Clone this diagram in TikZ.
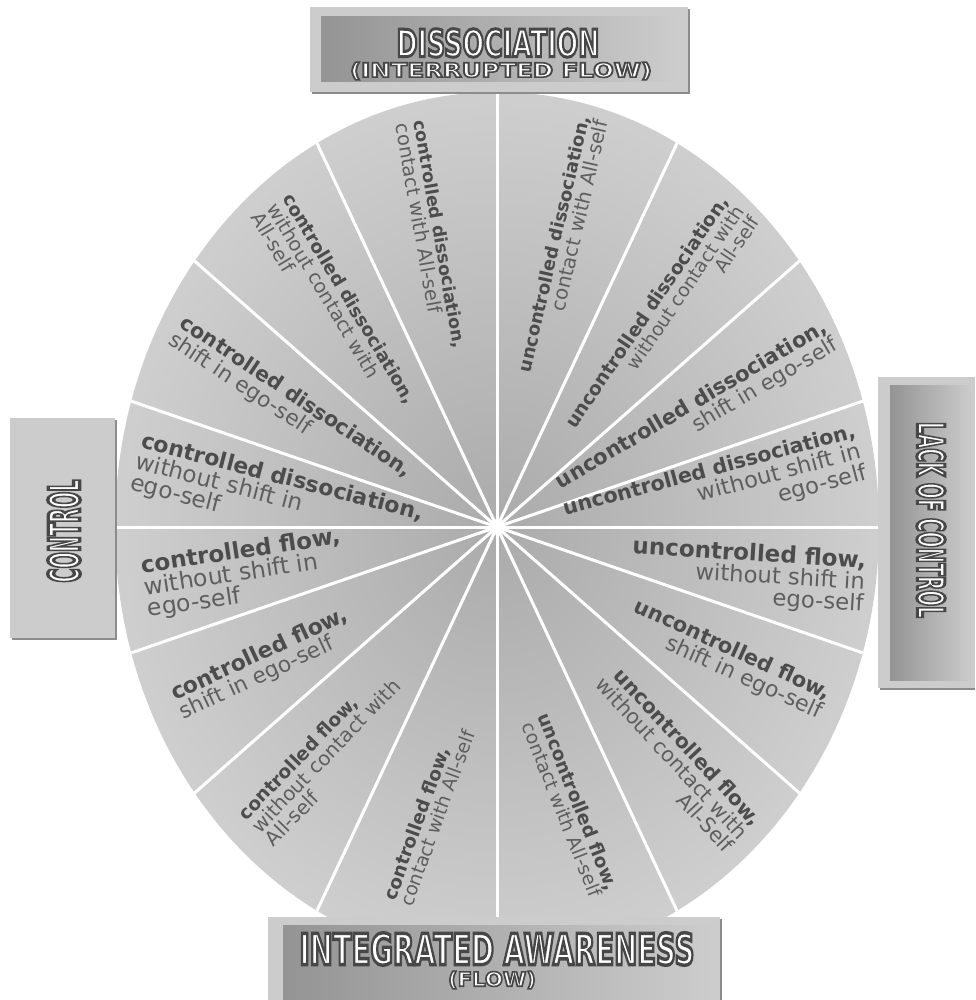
\documentclass[tikz,border=0pt]{standalone}
\usepackage{fontspec}
\setmainfont{DejaVu Sans}
\usepackage{graphicx}
\definecolor{boldtxt}{gray}{0.30}
\definecolor{regtxt}{gray}{0.37}
\definecolor{wheelin}{gray}{0.67}
\definecolor{wheelout}{gray}{0.81}
\definecolor{framec}{gray}{0.80}
\definecolor{frameedge}{gray}{0.55}
\definecolor{pdark}{gray}{0.58}
\definecolor{pmid}{gray}{0.86}
\definecolor{plight}{gray}{0.80}
\newcommand\seg[3]{{\fontsize{#1}{#1}\selectfont\bfseries\color{boldtxt}#2}\\#3}
\newcommand\outl[1]{\special{pdf:literal direct 2 Tr 0.8 w 0.28 G}#1\special{pdf:literal direct 0 Tr}}
\begin{document}
\begin{tikzpicture}[x=1pt,y=-1pt,
  spoke/.style={white,line width=3pt},
  lab/.style={inner sep=0pt,text=regtxt},
  rlab/.style={lab,align=right},
  llab/.style={lab,align=left},
  htext/.style={inner sep=0pt,font=\bfseries,text=white}]
\useasboundingbox (0,0) rectangle (975,1000);
\fill[white] (0,0) rectangle (975,1000);
\coordinate (c) at (497,527);
\shade[inner color=wheelin,outer color=wheelout] (c) ellipse [x radius=382pt,y radius=435pt];
\coordinate (e0) at (497,47);
\coordinate (e1) at (694,107);
\coordinate (e2) at (829,235);
\coordinate (e3) at (901,388);
\coordinate (e4) at (917,527);
\coordinate (e5) at (901,666);
\coordinate (e6) at (829,819);
\coordinate (e7) at (694,947);
\coordinate (e8) at (497,1007);
\coordinate (e9) at (300,947);
\coordinate (e10) at (165,819);
\coordinate (e11) at (93,666);
\coordinate (e12) at (77,527);
\coordinate (e13) at (93,388);
\coordinate (e14) at (165,235);
\coordinate (e15) at (300,107);
\begin{scope}
\clip (c) ellipse [x radius=382pt,y radius=435pt];
\foreach \i in {0,...,15} \draw[spoke] (c) -- (e\i);
\end{scope}
\fill[white] (c) circle (8pt);
% labels right half
\node[rlab,rotate=15,font=\fontsize{22.5}{21.5}\selectfont] (r1) at (715,492) {\seg{20.6}{uncontrolled dissociation,}{without shift in\\ego-self}};
\node[rlab,rotate=30.5,font=\fontsize{21.3}{20.5}\selectfont] (r2) at (697,414) {\seg{21.2}{uncontrolled dissociation,}{shift in ego-self}};
\node[rlab,rotate=56,font=\fontsize{18.8}{18.5}\selectfont] (r3) at (662,322) {\seg{18.8}{uncontrolled dissociation,}{without contact with\\All-self}};
\node[rlab,rotate=77,font=\fontsize{19.8}{19}\selectfont] (r4) at (563,246) {\seg{17.9}{uncontrolled dissociation,}{contact with All-self}};
\node[rlab,rotate=-3.5,font=\fontsize{22.7}{21.5}\selectfont] (r5) at (748,576) {\seg{23}{uncontrolled flow,}{without shift in\\ego-self}};
\node[rlab,rotate=-24.5,font=\fontsize{22}{21}\selectfont] (r6) at (728,660) {\seg{21}{uncontrolled flow,}{shift in ego-self}};
\node[rlab,rotate=-47,font=\fontsize{20.7}{19.5}\selectfont] (r7) at (672,758) {\seg{20.3}{uncontrolled flow,}{without contact with\\All-Self}};
\node[rlab,rotate=-68.5,font=\fontsize{18.8}{18}\selectfont] (r8) at (570,805) {\seg{18.5}{uncontrolled flow,}{contact with All-self}};
% labels left half
\node[llab,rotate=-80,font=\fontsize{19.5}{18.5}\selectfont] (l1) at (431,236) {\seg{17.5}{controlled dissociation,}{contact with All-self}};
\node[llab,rotate=-59,font=\fontsize{19.5}{18.5}\selectfont] (l2) at (334,308) {\seg{18.2}{controlled dissociation,}{without contact with\\All-self}};
\node[llab,rotate=-33.7,font=\fontsize{21.5}{20.5}\selectfont] (l3) at (290,406) {\seg{20.7}{controlled dissociation,}{shift in ego-self}};
\node[llab,rotate=-14.5,font=\fontsize{23}{21.5}\selectfont] (l4) at (277,499) {\seg{22}{controlled dissociation,}{without shift in\\ego-self}};
\node[llab,rotate=8.5,font=\fontsize{23.5}{22}\selectfont] (l5) at (244,574) {\seg{23}{controlled flow,}{without shift in\\ego-self}};
\node[llab,rotate=25,font=\fontsize{21.7}{20.5}\selectfont] (l6) at (264,664) {\seg{22}{controlled flow,}{shift in ego-self}};
\node[llab,rotate=46,font=\fontsize{19.9}{19}\selectfont] (l7) at (326,756) {\seg{18.6}{controlled flow,}{without contact with\\All-self}};
\node[llab,rotate=70,font=\fontsize{18.8}{18}\selectfont] (l8) at (429,815) {\seg{18.4}{controlled flow,}{contact with All-self}};
% header boxes
\fill[frameedge] (312,9) rectangle (690,94);
\fill[framec] (310,7) rectangle (688,92);
\shade[left color=pdark,right color=plight] (321,17) rectangle (680,82);
\fill[frameedge] (270,919) rectangle (722,1000);
\fill[framec] (268,917) rectangle (720,1000);
\shade[left color=pdark,right color=plight] (283,925) rectangle (713,1000);
\fill[frameedge] (12,420) rectangle (117,640);
\fill[framec] (10,418) rectangle (115,638);
\shade[left color=plight,middle color=pmid,right color=plight] (22,425) rectangle (107,630);
\fill[frameedge] (880,379) rectangle (975,690);
\fill[framec] (878,377) rectangle (975,688);
\shade[left color=pdark,middle color=pmid,right color=plight] (890,385) rectangle (972,680);
\node[htext] (hdis) at (498,43) {\resizebox{203pt}{28pt}{\outl{DISSOCIATION}}};
\node[htext] (hint) at (501,71) {\resizebox{302pt}{15pt}{\outl{(INTERRUPTED FLOW)}}};
\node[htext] (hia) at (497,949) {\resizebox{395pt}{32pt}{\outl{INTEGRATED AWARENESS}}};
\node[htext] (hflow) at (492,980) {\resizebox{88pt}{15pt}{\outl{(FLOW)}}};
\node[htext,rotate=90] (hctl) at (64,531) {\resizebox{103pt}{32pt}{\outl{CONTROL}}};
\node[htext,rotate=-90] (hlack) at (931,520) {\resizebox{196pt}{28pt}{\outl{LACK OF CONTROL}}};
\end{tikzpicture}
\end{document}
